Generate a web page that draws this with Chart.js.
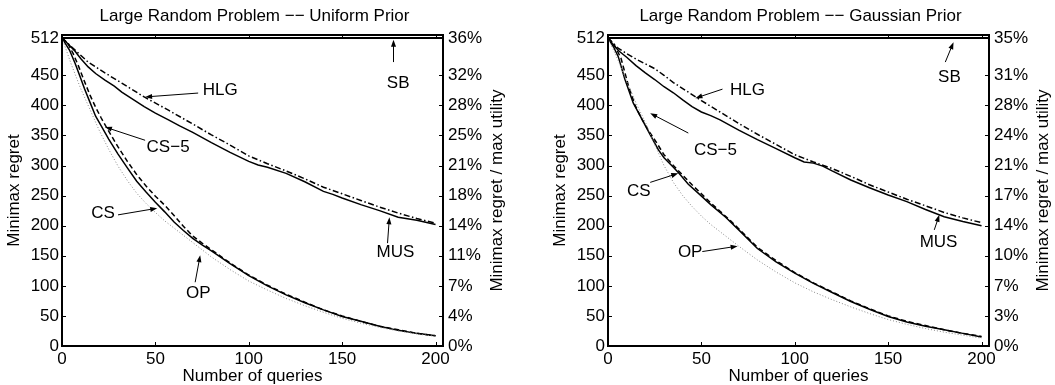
<!DOCTYPE html>
<html lang="en">
<head>
<meta charset="UTF-8" />
<title>Large Random Problem</title>
<script src="https://cdn.jsdelivr.net/npm/chart.js@4"></script>
<style>
  body { margin: 0; background: #fff; }
  .panel { position: absolute; top: 0; width: 509px; height: 385px; }
  #left { left: 0; }
  #right { left: 546px; }
</style>
</head>
<body>
<div class="panel" id="left"><canvas id="chart-uniform" width="509" height="385"></canvas></div>
<div class="panel" id="right"><canvas id="chart-gaussian" width="509" height="385"></canvas></div>

<script>
// axis ticks shared by both panels
const xTicks = [0, 50, 100, 150, 200];
const yTicks = [0, 50, 100, 150, 200, 250, 300, 350, 400, 450, 512];
const uniformPct = ['0%', '4%', '7%', '11%', '14%', '18%', '21%', '25%', '28%', '32%', '36%'];
const gaussianPct = ['0%', '3%', '7%', '10%', '14%', '17%', '21%', '24%', '28%', '31%', '35%'];

// Uniform prior: [queries, minimax regret]
const uniformSB = [[0, 512], [203.5, 512]];
const uniformHLG = [[0,512],[7,492],[14,472],[23,454],[32,437],[44,414],[57,392],[70,369],[80,351],[90,334],[100,316],[110,303],[120,291],[130,278],[140,264],[150,253],[160,242],[170,231],[180,221],[190,212],[200,204]];
const uniformMUS = [[0,512],[3,503],[7,490],[10,478],[14,464],[18,453],[23,442],[28,432],[32,422],[38,410],[44,398],[50,387],[57,376],[63,366],[70,355],[80,338],[90,322],[100,307],[105,301],[110,297],[120,287],[130,273],[140,257],[145,252],[150,246],[160,235],[170,225],[180,214],[190,209],[200,202]];
const uniformCS5 = [[0,512],[3,504],[6,486],[9,464],[12,440],[15,417],[18,397],[21,379],[25,357],[30,331],[35,307],[40,285],[45,266],[50,249],[55,234],[60,217],[65,199],[70,183],[75,171],[80,160],[90,138],[100,118],[110,101],[120,86],[130,73],[140,60],[150,50],[160,41],[170,33],[180,27],[190,21],[200,17]];
const uniformCS = [[0,512],[2,502],[4,492],[7,470],[10,445],[12,428],[15,405],[18,382],[21,366],[25,344],[30,319],[35,296],[40,274],[45,256],[50,239],[55,223],[60,206],[65,192],[70,179],[75,168],[80,158],[90,137],[100,117],[110,100],[120,85],[130,72],[140,60],[150,49],[160,41],[170,33],[180,26],[190,21],[200,17]];
const uniformOP = [[0,512],[5,468],[10,428],[15,393],[20,358],[25,327],[30,299],[35,275],[40,254],[45,237],[50,222],[55,208],[60,196],[70,172],[80,148],[90,127],[100,108],[110,93],[120,79],[130,67],[140,56],[150,46],[160,38],[170,31],[180,25],[190,20],[200,16]];

// Gaussian prior
const gaussianSB = [[0, 512], [203.5, 512]];
const gaussianHLG = [[0,512],[5,496],[10,486],[15,477],[20,469],[25,461],[30,450],[35,438],[40,428],[45,418],[50,408],[60,389],[70,370],[80,352],[90,335],[100,318],[110,306],[120,295],[130,282],[140,268],[150,256],[160,244],[170,233],[180,222],[190,213],[200,205]];
const gaussianMUS = [[0,512],[3,500],[6,490],[10,480],[15,466],[20,454],[25,443],[30,431],[35,421],[40,409],[45,398],[50,389],[55,383],[60,376],[70,359],[80,343],[90,328],[100,313],[105,306],[110,304],[115,299],[120,291],[130,276],[140,263],[150,251],[160,240],[170,227],[180,215],[190,207],[200,200]];
const gaussianCS5 = [[0,512],[3,503],[7,478],[11,432],[14.5,400],[18,378],[21.5,359],[26,338],[30,318],[35,300],[40,284],[45,268],[50,253],[55,238],[60,224],[65,210],[70,195],[80,164],[90,142],[100,122],[110,105],[120,90],[130,75],[140,62],[150,50],[160,41],[170,34],[180,27],[190,21],[200,16]];
const gaussianCS = [[0,512],[3,497],[5.5,481],[9,444],[13.5,404],[19,372],[24,343],[27,326],[30,313],[35,297],[38,287],[43,269],[48,255],[55,235],[63,214],[70,193],[80,162],[90,140],[100,121],[110,104],[120,89],[130,74],[140,61],[150,49],[160,40],[170,33],[180,27],[190,21],[200,15]];
const gaussianOP = [[0,512],[5,478],[10,440],[15,404],[20,372],[25,335],[30,300],[35,272],[40,250],[45,232],[50,216],[55,202],[60,190],[70,166],[80,143],[90,123],[100,105],[110,90],[120,77],[130,65],[140,54],[150,44],[160,36],[170,29],[180,23],[190,18],[200,13]];

// callouts: text, text x/y, arrow from x/y, arrow to x/y (data units)
const uniformNotes = [
  ['SB', 180, 437, 177.5, 472, 177.5, 509],
  ['HLG', 84.7, 425, 72.9, 420.5, 44.5, 414],
  ['CS\u22125', 56.8, 331, 44.5, 342, 23, 364],
  ['CS', 22, 221, 30, 218, 51, 229],
  ['OP', 73, 88, 71.3, 106, 74, 151],
  ['MUS', 178.5, 155, 174.3, 171, 175.3, 214]
];
const gaussianNotes = [
  ['SB', 182.8, 447, 180.6, 472, 185, 505],
  ['HLG', 74.7, 425, 61.3, 427, 46.8, 412],
  ['CS\u22125', 57.5, 326, 43, 354, 22.6, 387],
  ['CS', 16.5, 257, 22.6, 272, 37.6, 287],
  ['OP', 44, 155, 50.5, 157, 69.4, 166],
  ['MUS', 177, 173, 174.7, 193, 177.4, 218]
];

Chart.defaults.font.family = '"Liberation Sans", Arial, Helvetica, sans-serif';
Chart.defaults.font.size = 17;
Chart.defaults.color = '#000';

const pts = arr => arr.map(p => ({ x: p[0], y: p[1] }));

function arrow(ctx, x1, y1, x2, y2) {
  const ang = Math.atan2(y2 - y1, x2 - x1);
  ctx.beginPath();
  ctx.moveTo(x1, y1);
  ctx.lineTo(x2 - 5 * Math.cos(ang), y2 - 5 * Math.sin(ang));
  ctx.stroke();
  ctx.beginPath();
  ctx.moveTo(x2, y2);
  ctx.lineTo(x2 - 7 * Math.cos(ang) + 2.5 * Math.sin(ang), y2 - 7 * Math.sin(ang) - 2.5 * Math.cos(ang));
  ctx.lineTo(x2 - 7 * Math.cos(ang) - 2.5 * Math.sin(ang), y2 - 7 * Math.sin(ang) + 2.5 * Math.cos(ang));
  ctx.closePath();
  ctx.fill();
}

// matlab style box with inward ticks, callouts and the right-hand label
const frame = {
  id: 'frame',
  afterDatasetsDraw(chart, args, opts) {
    const { ctx, chartArea: a, scales } = chart;
    const sx = scales.x, sy = scales.y;
    ctx.save();
    ctx.strokeStyle = '#000';
    ctx.fillStyle = '#000';
    ctx.lineWidth = 1;
    ctx.beginPath();
    xTicks.forEach(v => {
      const px = Math.round(sx.getPixelForValue(v)) + 0.5;
      ctx.moveTo(px, a.bottom); ctx.lineTo(px, a.bottom - 4);
      ctx.moveTo(px, a.top); ctx.lineTo(px, a.top + 4);
    });
    yTicks.forEach(v => {
      const py = Math.round(sy.getPixelForValue(v)) + 0.5;
      ctx.moveTo(a.left, py); ctx.lineTo(a.left + 4, py);
      ctx.moveTo(a.right, py); ctx.lineTo(a.right - 4, py);
    });
    ctx.stroke();
    ctx.lineWidth = 2;
    ctx.strokeRect(a.left, a.top, a.right - a.left, a.bottom - a.top);

    ctx.lineWidth = 1;
    ctx.font = '17px "Liberation Sans", Arial, sans-serif';
    ctx.textAlign = 'center';
    ctx.textBaseline = 'middle';
    opts.notes.forEach(n => {
      ctx.fillText(n[0], sx.getPixelForValue(n[1]), sy.getPixelForValue(n[2]));
      arrow(ctx, sx.getPixelForValue(n[3]), sy.getPixelForValue(n[4]),
                 sx.getPixelForValue(n[5]), sy.getPixelForValue(n[6]));
    });

    ctx.translate(a.right + 54, (a.top + a.bottom) / 2);
    ctx.rotate(-Math.PI / 2);
    ctx.fillText('Minimax regret / max utility', 0, 0);
    ctx.restore();
  }
};

function makeChart(id, title, s, pct, notes) {
  const line = (data, extra) => Object.assign({
    data: pts(data), borderColor: '#000', borderWidth: 1.5,
    pointRadius: 0, tension: 0, fill: false
  }, extra);
  return new Chart(document.getElementById(id), {
    type: 'line',
    data: {
      datasets: [
        line(s.op, { borderColor: '#888', borderWidth: 1, borderDash: [1, 2] }),
        line(s.hlg, { borderDash: [6, 2.5, 1.5, 2.5] }),
        line(s.mus, {}),
        line(s.cs5, { borderDash: [5, 3] }),
        line(s.cs, {}),
        line(s.sb, { borderWidth: 2 })
      ]
    },
    options: {
      responsive: false,
      animation: false,
      layout: { padding: 0 },
      plugins: {
        legend: { display: false },
        tooltip: { enabled: false },
        title: {
          display: true, text: title, color: '#000',
          font: { size: 17, weight: 'normal', lineHeight: 1.2 },
          padding: { top: 6, bottom: 8.6 }
        },
        frame: { notes: notes }
      },
      scales: {
        x: {
          type: 'linear', min: 0, max: 204,
          afterBuildTicks: sc => { sc.ticks = xTicks.map(v => ({ value: v })); },
          afterFit: sc => { sc.height = 39; },
          grid: { display: false, drawTicks: false },
          border: { display: false },
          ticks: { padding: 3, maxRotation: 0, autoSkip: false },
          title: { display: true, text: 'Number of queries', font: { size: 17, lineHeight: 1 }, padding: 0 }
        },
        y: {
          position: 'left', min: 0, max: 517,
          afterBuildTicks: sc => { sc.ticks = yTicks.map(v => ({ value: v })); },
          afterFit: sc => { sc.width = 62; },
          grid: { display: false, drawTicks: false },
          border: { display: false },
          ticks: { padding: 3, autoSkip: false },
          title: { display: true, text: 'Minimax regret', padding: { top: 4, bottom: 4 } }
        },
        y2: {
          position: 'right', min: 0, max: 517,
          afterBuildTicks: sc => { sc.ticks = yTicks.map(v => ({ value: v })); },
          afterFit: sc => { sc.width = 66; },
          grid: { display: false, drawTicks: false },
          border: { display: false },
          ticks: { padding: 5, autoSkip: false, callback: (v, i) => pct[i] }
        }
      }
    },
    plugins: [frame]
  });
}

makeChart('chart-uniform', 'Large Random Problem \u2212\u2212 Uniform Prior',
  { sb: uniformSB, hlg: uniformHLG, mus: uniformMUS, cs5: uniformCS5, cs: uniformCS, op: uniformOP },
  uniformPct, uniformNotes);
makeChart('chart-gaussian', 'Large Random Problem \u2212\u2212 Gaussian Prior',
  { sb: gaussianSB, hlg: gaussianHLG, mus: gaussianMUS, cs5: gaussianCS5, cs: gaussianCS, op: gaussianOP },
  gaussianPct, gaussianNotes);
</script>
</body>
</html>
